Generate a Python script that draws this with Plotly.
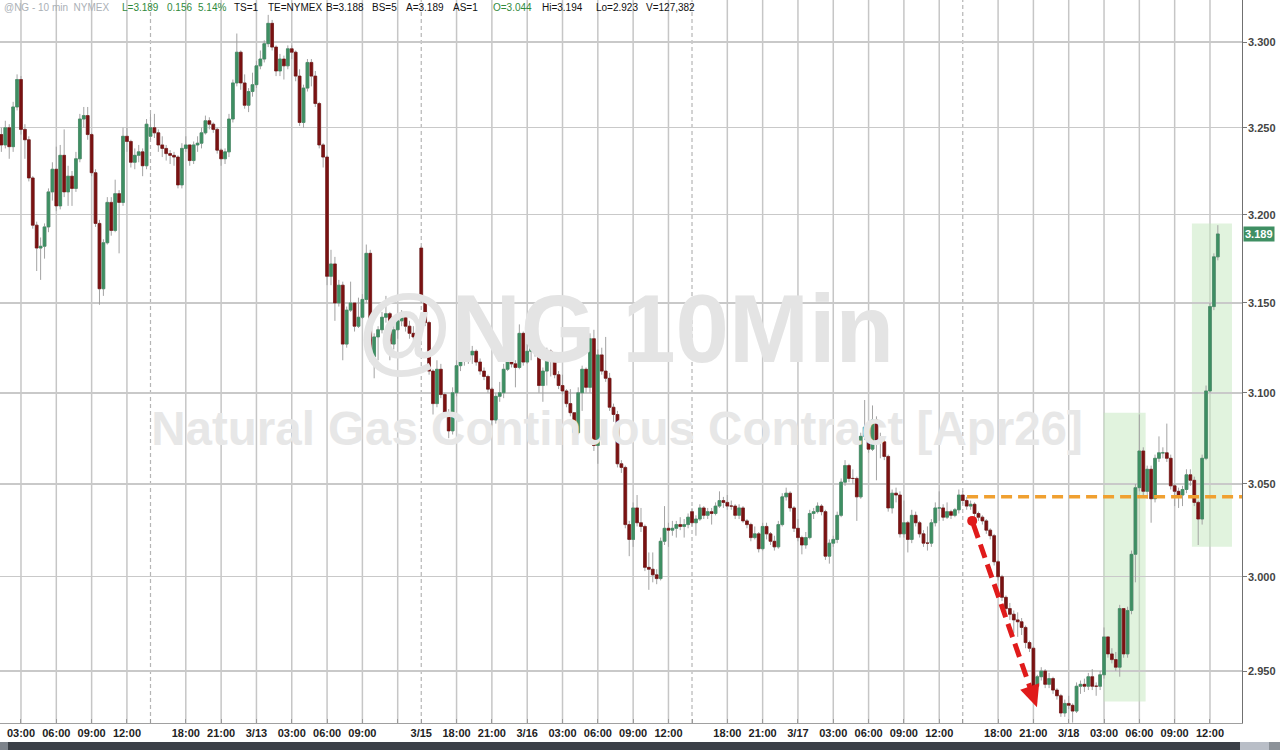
import numpy as np
import plotly.graph_objects as go

# ---------------- data: 20-minute bars, x = bar number along the trading sessions ----------------
opens = [3.246,3.240,3.250,3.239,3.262,3.278,3.249,3.243,3.221,3.194,
3.181,3.182,3.193,3.213,3.226,3.205,3.234,3.213,3.222,3.215,
3.232,3.255,3.257,3.246,3.224,3.195,3.158,3.184,3.207,3.191,
3.212,3.207,3.245,3.242,3.230,3.234,3.236,3.228,3.245,3.250,
3.247,3.240,3.238,3.235,3.234,3.233,3.217,3.238,3.240,3.231,
3.240,3.241,3.247,3.254,3.252,3.249,3.237,3.232,3.236,3.255,
3.276,3.294,3.276,3.263,3.271,3.275,3.286,3.290,3.299,3.311,
3.297,3.283,3.290,3.286,3.296,3.294,3.280,3.253,3.273,3.288,
3.280,3.264,3.240,3.233,3.165,3.172,3.150,3.160,3.127,3.146,
3.150,3.137,3.142,3.152,3.178,3.120,3.131,3.135,3.142,3.144,
3.127,3.135,3.140,3.142,3.137,3.133,3.131,3.181,3.152,3.139,
3.112,3.094,3.113,3.099,3.089,3.079,3.100,3.115,3.121,3.118,
3.121,3.123,3.117,3.112,3.109,3.102,3.085,3.098,3.100,3.113,
3.126,3.116,3.114,3.133,3.117,3.123,3.127,3.123,3.104,3.112,
3.123,3.118,3.110,3.104,3.101,3.094,3.089,3.078,3.100,3.113,
3.103,3.130,3.071,3.121,3.112,3.108,3.092,3.088,3.061,3.059,
3.028,3.020,3.037,3.029,3.027,3.005,3.004,3.001,2.999,3.019,
3.026,3.025,3.026,3.028,3.027,3.028,3.035,3.029,3.031,3.037,
3.033,3.035,3.034,3.038,3.041,3.040,3.038,3.038,3.033,3.037,
3.030,3.028,3.021,3.023,3.015,3.027,3.023,3.019,3.016,3.028,
3.043,3.045,3.037,3.026,3.021,3.017,3.021,3.034,3.035,3.038,
3.035,3.011,3.018,3.020,3.033,3.051,3.060,3.053,3.053,3.043,
3.076,3.081,3.069,3.085,3.074,3.073,3.065,3.037,3.045,3.044,
3.023,3.029,3.020,3.033,3.029,3.023,3.018,3.018,3.029,3.037,
3.037,3.032,3.035,3.033,3.036,3.044,3.041,3.038,3.039,3.034,
3.032,3.030,3.025,3.022,3.008,3.000,2.989,2.983,2.980,2.977,
2.976,2.973,2.965,2.962,2.942,2.947,2.950,2.943,2.946,2.940,
2.937,2.928,2.933,2.932,2.929,2.942,2.943,2.942,2.947,2.942,
2.942,2.948,2.968,2.959,2.956,2.952,2.983,2.959,2.982,3.012,
3.048,3.068,3.046,3.058,3.042,3.064,3.067,3.067,3.064,3.049,
3.046,3.044,3.047,3.055,3.052,3.040,3.031,3.064,3.101,3.148,3.176]

highs = [3.250,3.254,3.252,3.265,3.281,3.280,3.252,3.245,3.222,3.196,
3.187,3.195,3.215,3.230,3.239,3.240,3.249,3.228,3.225,3.236,
3.258,3.262,3.262,3.247,3.226,3.197,3.186,3.210,3.210,3.220,
3.214,3.250,3.250,3.243,3.238,3.240,3.238,3.255,3.258,3.258,
3.249,3.245,3.240,3.237,3.236,3.234,3.241,3.245,3.240,3.242,
3.245,3.250,3.257,3.256,3.253,3.250,3.238,3.238,3.258,3.278,
3.305,3.295,3.281,3.273,3.282,3.289,3.295,3.301,3.316,3.313,
3.298,3.293,3.292,3.298,3.298,3.295,3.284,3.275,3.290,3.290,
3.283,3.265,3.241,3.234,3.180,3.176,3.163,3.162,3.148,3.162,
3.150,3.153,3.155,3.183,3.180,3.133,3.137,3.145,3.154,3.145,
3.139,3.143,3.146,3.143,3.140,3.137,3.139,3.182,3.153,3.140,
3.113,3.118,3.116,3.100,3.091,3.103,3.118,3.124,3.124,3.125,
3.126,3.124,3.119,3.114,3.110,3.103,3.100,3.106,3.116,3.131,
3.128,3.118,3.138,3.134,3.127,3.130,3.129,3.126,3.114,3.125,
3.124,3.119,3.112,3.110,3.102,3.102,3.089,3.103,3.115,3.114,
3.133,3.135,3.124,3.125,3.131,3.111,3.094,3.090,3.063,3.060,
3.030,3.040,3.044,3.037,3.028,3.013,3.013,3.004,3.021,3.038,
3.029,3.030,3.030,3.032,3.031,3.034,3.037,3.033,3.039,3.038,
3.037,3.037,3.040,3.046,3.043,3.044,3.041,3.039,3.039,3.038,
3.031,3.029,3.027,3.024,3.029,3.029,3.024,3.022,3.030,3.045,
3.048,3.046,3.038,3.031,3.022,3.024,3.036,3.037,3.040,3.039,
3.036,3.020,3.022,3.035,3.053,3.063,3.061,3.058,3.054,3.078,
3.096,3.083,3.093,3.087,3.078,3.075,3.066,3.047,3.048,3.046,
3.041,3.030,3.036,3.035,3.030,3.025,3.027,3.031,3.040,3.046,
3.039,3.040,3.036,3.037,3.047,3.046,3.043,3.041,3.040,3.035,
3.033,3.031,3.026,3.023,3.009,3.001,2.990,2.986,2.982,2.981,
2.978,2.974,2.966,2.963,2.948,2.952,2.951,2.949,2.947,2.941,
2.938,2.935,2.937,2.933,2.944,2.945,2.946,2.949,2.951,2.944,
2.950,2.973,2.968,2.962,2.960,2.985,2.983,2.984,3.014,3.050,
3.088,3.070,3.060,3.060,3.066,3.076,3.070,3.083,3.066,3.050,
3.048,3.049,3.058,3.058,3.054,3.041,3.066,3.104,3.150,3.178,3.194]

lows = [3.236,3.238,3.232,3.236,3.260,3.246,3.232,3.219,3.192,3.168,
3.163,3.175,3.190,3.208,3.202,3.203,3.210,3.205,3.205,3.213,
3.230,3.250,3.243,3.222,3.193,3.149,3.154,3.183,3.188,3.190,
3.178,3.205,3.236,3.227,3.226,3.230,3.222,3.226,3.243,3.244,
3.236,3.233,3.231,3.229,3.228,3.215,3.215,3.236,3.228,3.229,
3.236,3.238,3.246,3.249,3.247,3.235,3.228,3.229,3.233,3.253,
3.274,3.272,3.261,3.259,3.268,3.273,3.284,3.288,3.297,3.295,
3.280,3.280,3.278,3.284,3.290,3.277,3.251,3.250,3.271,3.274,
3.262,3.238,3.227,3.160,3.160,3.140,3.148,3.118,3.125,3.145,
3.134,3.136,3.141,3.150,3.117,3.108,3.118,3.133,3.139,3.118,
3.124,3.130,3.137,3.134,3.130,3.129,3.128,3.150,3.137,3.110,
3.088,3.092,3.097,3.087,3.075,3.077,3.098,3.112,3.115,3.116,
3.116,3.115,3.110,3.107,3.100,3.082,3.083,3.095,3.097,3.112,
3.114,3.103,3.113,3.115,3.116,3.118,3.120,3.100,3.095,3.104,
3.109,3.108,3.102,3.099,3.092,3.087,3.075,3.077,3.090,3.100,
3.100,3.068,3.061,3.110,3.106,3.090,3.084,3.059,3.056,3.026,
3.011,3.016,3.027,3.024,3.003,2.993,2.997,2.996,2.998,3.017,
3.016,3.022,3.021,3.025,3.021,3.026,3.027,3.022,3.030,3.031,
3.031,3.028,3.033,3.037,3.037,3.036,3.036,3.031,3.031,3.029,
3.026,3.019,3.020,3.013,3.014,3.020,3.017,3.014,3.015,3.027,
3.041,3.035,3.024,3.019,3.012,3.015,3.020,3.031,3.034,3.033,
3.009,3.007,3.016,3.018,3.032,3.049,3.051,3.050,3.030,3.042,
3.074,3.067,3.068,3.052,3.064,3.063,3.035,3.034,3.040,3.021,
3.021,3.013,3.018,3.027,3.021,3.016,3.014,3.016,3.027,3.030,
3.030,3.031,3.031,3.032,3.034,3.039,3.036,3.036,3.032,3.030,
3.028,3.023,3.020,3.006,2.998,2.987,2.981,2.977,2.970,2.968,
2.969,2.962,2.960,2.938,2.938,2.945,2.941,2.941,2.938,2.935,
2.926,2.926,2.930,2.923,2.928,2.938,2.939,2.940,2.940,2.937,
2.940,2.946,2.957,2.954,2.950,2.947,2.957,2.957,2.980,2.997,
3.046,3.043,3.042,3.029,3.040,3.062,3.064,3.062,3.047,3.038,
3.037,3.038,3.045,3.049,3.038,3.017,3.028,3.063,3.100,3.146,3.174]

closes = [3.240,3.250,3.239,3.262,3.278,3.249,3.243,3.221,3.194,3.181,
3.182,3.193,3.213,3.226,3.205,3.234,3.213,3.222,3.215,3.232,
3.255,3.257,3.246,3.224,3.195,3.158,3.184,3.207,3.191,3.212,
3.207,3.245,3.242,3.230,3.234,3.236,3.228,3.252,3.250,3.247,
3.240,3.238,3.235,3.234,3.233,3.217,3.238,3.240,3.231,3.240,
3.241,3.247,3.254,3.252,3.249,3.237,3.232,3.236,3.255,3.276,
3.294,3.276,3.263,3.271,3.275,3.286,3.290,3.299,3.311,3.297,
3.283,3.290,3.286,3.296,3.294,3.280,3.253,3.273,3.288,3.280,
3.264,3.240,3.233,3.165,3.172,3.150,3.160,3.127,3.146,3.150,
3.137,3.142,3.152,3.178,3.120,3.131,3.135,3.142,3.144,3.127,
3.135,3.140,3.142,3.137,3.133,3.131,3.132,3.152,3.139,3.112,
3.094,3.113,3.099,3.089,3.079,3.100,3.115,3.121,3.118,3.121,
3.123,3.117,3.112,3.109,3.102,3.085,3.098,3.100,3.113,3.126,
3.116,3.114,3.133,3.117,3.123,3.127,3.123,3.104,3.112,3.123,
3.118,3.110,3.104,3.101,3.094,3.089,3.078,3.100,3.113,3.103,
3.130,3.071,3.121,3.112,3.108,3.092,3.088,3.061,3.059,3.028,
3.020,3.037,3.029,3.027,3.005,3.004,3.001,2.999,3.019,3.026,
3.025,3.026,3.028,3.027,3.028,3.032,3.029,3.031,3.037,3.033,
3.035,3.034,3.038,3.041,3.040,3.038,3.038,3.033,3.037,3.030,
3.028,3.021,3.023,3.015,3.027,3.023,3.019,3.016,3.028,3.043,
3.045,3.037,3.026,3.021,3.017,3.021,3.034,3.035,3.038,3.035,
3.011,3.018,3.020,3.033,3.051,3.060,3.053,3.053,3.043,3.076,
3.081,3.069,3.085,3.074,3.073,3.065,3.037,3.045,3.044,3.023,
3.029,3.020,3.033,3.029,3.023,3.018,3.018,3.029,3.037,3.037,
3.032,3.035,3.033,3.036,3.044,3.041,3.038,3.039,3.034,3.032,
3.030,3.025,3.022,3.008,3.000,2.989,2.983,2.980,2.977,2.976,
2.973,2.965,2.962,2.942,2.947,2.950,2.943,2.946,2.940,2.937,
2.928,2.933,2.932,2.929,2.942,2.943,2.942,2.947,2.942,2.942,
2.948,2.968,2.959,2.956,2.952,2.983,2.959,2.982,3.012,3.048,
3.068,3.046,3.058,3.042,3.064,3.067,3.067,3.064,3.049,3.046,
3.044,3.047,3.055,3.052,3.040,3.031,3.064,3.101,3.148,3.176,3.189]

tick_idx = [5, 14, 23, 32, 47, 56, 65, 74, 83, 92, 107, 116, 125, 134, 143, 152, 161, 170,
            185, 194, 203, 212, 221, 230, 239, 254, 263, 272, 281, 290, 299, 308]
tick_text = ["03:00", "06:00", "09:00", "12:00", "18:00", "21:00", "3/13", "03:00", "06:00", "09:00",
             "3/15", "18:00", "21:00", "3/16", "03:00", "06:00", "09:00", "12:00",
             "18:00", "21:00", "3/17", "03:00", "06:00", "09:00", "12:00",
             "18:00", "21:00", "3/18", "03:00", "06:00", "09:00", "12:00"]
unlabeled_grid_idx = [101]            # 12:00 on 3/13 (label hidden)
session_start_idx = [38, 107, 176, 245]

price_ticks = [2.95, 3.00, 3.05, 3.10, 3.15, 3.20, 3.25, 3.30]
price_tick_text = ["2.950", "3.000", "3.050", "3.100", "3.150", "3.200", "3.250", "3.300"]

last_price = 3.189
ref_level = 3.043
ref_level_start_idx = 246.1
arrow_start = (247.4, 3.030)
arrow_end = (263.9, 2.931)
rally_boxes = [(280.9, 291.6, 2.934, 3.089), (303.4, 313.6, 3.016, 3.195)]

header_tokens = [
    ("@NG - 10 min  NYMEX", "#aab0b6", 2),
    ("L=3.189", "#2f8a3c", 120), ("0.156", "#2f8a3c", 165), ("5.14%", "#2f8a3c", 196),
    ("TS=1", "#111111", 232), ("TE=NYMEX", "#111111", 266), ("B=3.188", "#111111", 324),
    ("BS=5", "#111111", 370), ("A=3.189", "#111111", 404), ("AS=1", "#111111", 451),
    ("O=3.044", "#2f8a3c", 491), ("Hi=3.194", "#111111", 540), ("Lo=2.923", "#111111", 594),
    ("V=127,382", "#111111", 644),
]

# ---------------- geometry ----------------
W, H = 1280, 750
M_L, M_R, M_T, M_B = 0, 38, 0, 27
PW, PH = W - M_L - M_R, H - M_T - M_B
X_RANGE = [-0.35, 316.16]
LOGY_RANGE = [0.465797, 0.521765]

def px_of(i):
    return (i - X_RANGE[0]) / (X_RANGE[1] - X_RANGE[0]) * PW

def py_of(p):
    return (LOGY_RANGE[1] - np.log10(p)) / (LOGY_RANGE[1] - LOGY_RANGE[0]) * PH

def paper(px, py):
    return px / PW, 1 - py / PH

x = list(range(len(closes)))
body_hi = [max(o, c) for o, c in zip(opens, closes)]
body_lo = [min(o, c) for o, c in zip(opens, closes)]

UP = "#3e8f63"
DOWN = "#7a1212"
WICK = "#a3a3a3"
FONT = "Liberation Sans, Arial, sans-serif"

fig = go.Figure()

# watermark (drawn first, under candles)
fig.add_trace(go.Scatter(x=[159.2], y=[3.1305], mode="text", text=["<b>@NG 10Min</b>"],
                         textfont=dict(size=96, color="#e4e4e4", family=FONT),
                         hoverinfo="skip", showlegend=False))
fig.add_trace(go.Scatter(x=[156.9], y=[3.078], mode="text",
                         text=["<b>Natural Gas Continuous Contract [Apr26]</b>"],
                         textfont=dict(size=47.5, color="#e7e7e7", family=FONT),
                         hoverinfo="skip", showlegend=False))

# wicks
fig.add_trace(go.Candlestick(x=x, open=opens, high=highs, low=lows, close=closes,
                             increasing=dict(line=dict(color=WICK, width=1), fillcolor=WICK),
                             decreasing=dict(line=dict(color=WICK, width=1), fillcolor=WICK),
                             hoverinfo="skip", showlegend=False))
# bodies
fig.add_trace(go.Candlestick(x=x, open=opens, high=body_hi, low=body_lo, close=closes,
                             increasing=dict(line=dict(color=UP, width=0.6), fillcolor=UP),
                             decreasing=dict(line=dict(color=DOWN, width=0.6), fillcolor=DOWN),
                             hoverinfo="skip", showlegend=False))

shapes = []
# vertical grid lines
label_grid = [i for i in tick_idx if i not in session_start_idx] + unlabeled_grid_idx
for i in label_grid:
    shapes.append(dict(type="line", xref="x", yref="paper", x0=i, x1=i, y0=0, y1=1,
                       line=dict(color="#c6c6c6", width=1.5), layer="below"))
for i in session_start_idx:
    shapes.append(dict(type="line", xref="x", yref="paper", x0=i, x1=i, y0=0, y1=1,
                       line=dict(color="#b5b5b5", width=1.2, dash="4px,3px"), layer="below"))

# green highlight boxes
for (xa, xb, pa, pb) in rally_boxes:
    x0p, y0p = paper(px_of(xa), py_of(pa))
    x1p, y1p = paper(px_of(xb), py_of(pb))
    shapes.append(dict(type="rect", xref="paper", yref="paper", x0=x0p, x1=x1p, y0=y0p, y1=y1p,
                       fillcolor="rgba(196,232,190,0.5)", line=dict(width=0), layer="below"))

# orange reference level
ox0, oy = paper(px_of(ref_level_start_idx), py_of(ref_level))
shapes.append(dict(type="line", xref="paper", yref="paper", x0=ox0, x1=1, y0=oy, y1=oy,
                   line=dict(color="#f0a030", width=3.5, dash="11px,6px"), layer="above"))

# red dashed arrow
sx, sy = px_of(arrow_start[0]), py_of(arrow_start[1])
ex, ey = px_of(arrow_end[0]), py_of(arrow_end[1])
d = np.array([ex - sx, ey - sy]); L = np.hypot(*d); u = d / L; n = np.array([-u[1], u[0]])
head_len, head_half = 22, 10
bx, by = ex - head_len * u[0], ey - head_len * u[1]
lx0, ly0 = paper(sx + 4 * u[0], sy + 4 * u[1])
lx1, ly1 = paper(bx + 2 * u[0], by + 2 * u[1])
shapes.append(dict(type="line", xref="paper", yref="paper", x0=lx0, y0=ly0, x1=lx1, y1=ly1,
                   line=dict(color="#e01b1b", width=5, dash="14px,7px"), layer="above"))
p1 = paper(ex, ey)
p2 = paper(bx + head_half * n[0], by + head_half * n[1])
p3 = paper(bx - head_half * n[0], by - head_half * n[1])
shapes.append(dict(type="path", xref="paper", yref="paper",
                   path=f"M {p1[0]},{p1[1]} L {p2[0]},{p2[1]} L {p3[0]},{p3[1]} Z",
                   fillcolor="#e01b1b", line=dict(width=0), layer="above"))
cx0, cy0 = paper(sx - 5, sy + 5)
cx1, cy1 = paper(sx + 5, sy - 5)
shapes.append(dict(type="circle", xref="paper", yref="paper", x0=cx0, x1=cx1, y0=cy0, y1=cy1,
                   fillcolor="#e01b1b", line=dict(width=0), layer="above"))

# bottom scroll bar
bar_y0, bar_y1 = -(M_B) / PH, -(19) / PH
shapes.append(dict(type="rect", xref="paper", yref="paper", x0=0, x1=W / PW,
                   y0=bar_y0, y1=bar_y1, fillcolor="#3b4047", line=dict(width=0)))
shapes.append(dict(type="rect", xref="paper", yref="paper", x0=0, x1=8 / PW,
                   y0=bar_y0, y1=bar_y1, fillcolor="#7d838b", line=dict(width=0)))
shapes.append(dict(type="rect", xref="paper", yref="paper", x0=1240 / PW, x1=1269 / PW,
                   y0=bar_y0, y1=bar_y1, fillcolor="#b9bec7", line=dict(width=0)))
shapes.append(dict(type="rect", xref="paper", yref="paper", x0=1269 / PW, x1=W / PW,
                   y0=bar_y0, y1=bar_y1, fillcolor="#8c9299", line=dict(width=0)))

annotations = []
for txt, col, xpx in header_tokens:
    annotations.append(dict(xref="paper", yref="paper", x=xpx / PW, y=1, xanchor="left", yanchor="top",
                            text=txt.replace(" ", "\u00a0"), showarrow=False,
                            font=dict(size=10, color=col, family=FONT)))
# right price-axis labels
for v, t in zip(price_ticks, price_tick_text):
    annotations.append(dict(xref="paper", yref="paper", x=(PW + 4) / PW, y=1 - py_of(v) / PH,
                            xanchor="left", yanchor="middle", text=f"<b>{t}</b>", showarrow=False,
                            font=dict(size=11, color="#444444", family=FONT)))
lp_y = 1 - py_of(last_price) / PH
annotations.append(dict(xref="paper", yref="paper", x=(PW + 1) / PW, y=lp_y, xanchor="left",
                        yanchor="middle", text=f"<b>{last_price:.3f}</b>", showarrow=False,
                        bgcolor="#3f8f63", borderpad=1,
                        font=dict(size=11, color="white", family=FONT)))

tickvals = tick_idx + [38, 176, 245] + unlabeled_grid_idx
ticktext = [f"<b>{t}</b>" for t in tick_text] + ["", "", ""] + [""]

fig.update_layout(
    width=W, height=H, autosize=False,
    margin=dict(l=M_L, r=M_R, t=M_T, b=M_B, pad=0),
    paper_bgcolor="white", plot_bgcolor="white",
    showlegend=False, shapes=shapes, annotations=annotations,
    hovermode=False, boxgap=0.16, boxgroupgap=0.16,
    xaxis=dict(range=X_RANGE, showgrid=False, zeroline=False, rangeslider=dict(visible=False),
               tickmode="array", tickvals=tickvals, ticktext=ticktext,
               ticks="inside", ticklen=4, tickcolor="#9a9a9a",
               showline=True, linecolor="#a0a0a0", linewidth=1,
               tickfont=dict(size=11, color="#222222", family=FONT)),
    yaxis=dict(type="log", range=LOGY_RANGE, side="right",
               tickmode="array", tickvals=price_ticks, showticklabels=False,
               showgrid=True, gridcolor="#c9c9c9", gridwidth=1.5, zeroline=False,
               ticks="outside", ticklen=4, tickcolor="#777777",
               showline=True, linecolor="#707070", linewidth=1),
)

fig.write_html("out.html", config={"displayModeBar": False, "staticPlot": True},
               post_script="document.body.style.margin='0px';document.body.style.overflow='hidden';")
